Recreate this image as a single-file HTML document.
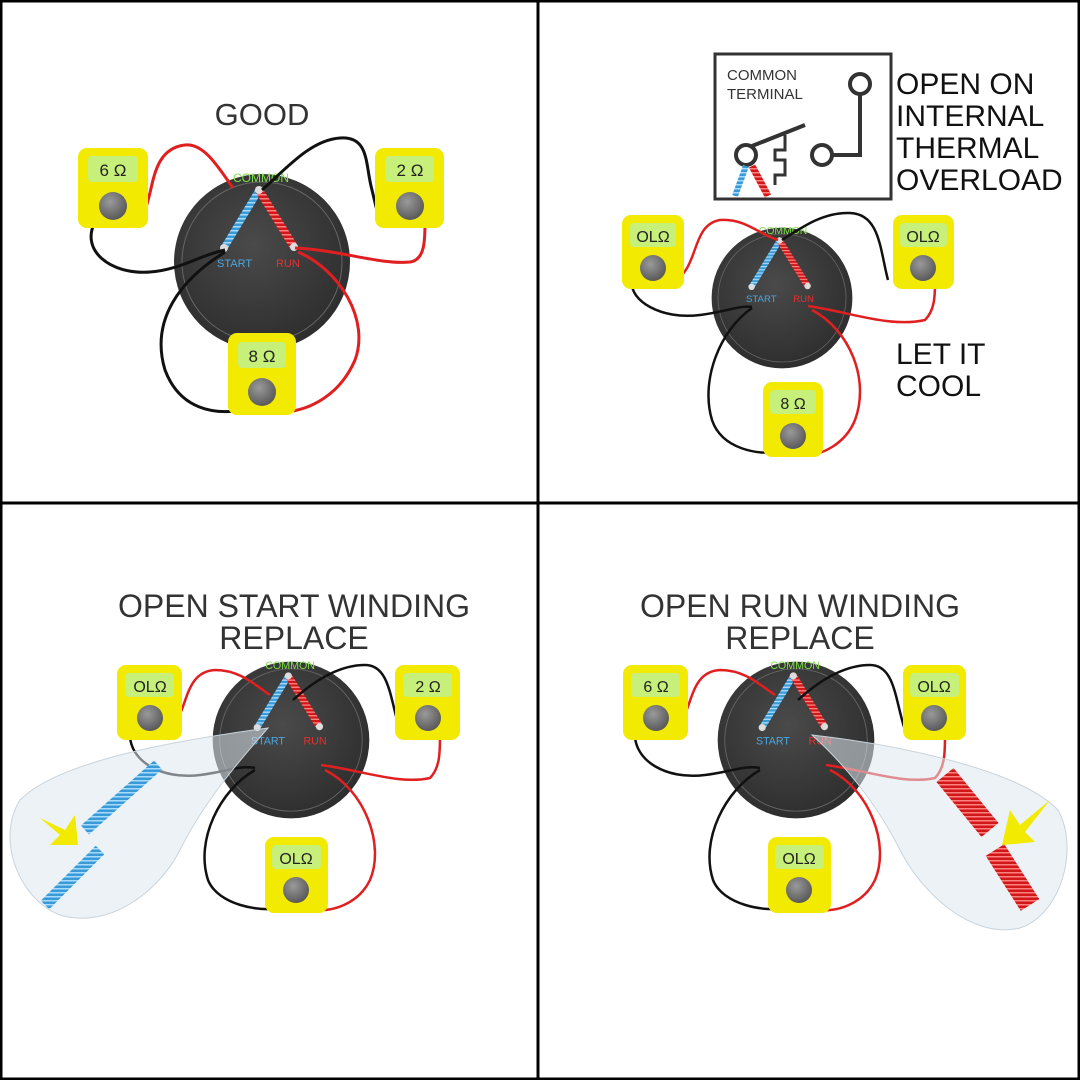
<!DOCTYPE html>
<html><head><meta charset="utf-8"><style>
html,body{margin:0;padding:0;background:#fff}
svg{display:block}
text{font-family:"Liberation Sans",sans-serif}
</style></head><body>
<svg width="1080" height="1080" viewBox="0 0 1080 1080">
<defs>
<radialGradient id="mg" cx="0.45" cy="0.4" r="0.6"><stop offset="0" stop-color="#4a4a4a"/><stop offset="1" stop-color="#2e2e2e"/></radialGradient>
<radialGradient id="kn" cx="0.4" cy="0.35" r="0.7"><stop offset="0" stop-color="#9a9a9a"/><stop offset="1" stop-color="#555"/></radialGradient>
<pattern id="bs" width="4" height="4" patternUnits="userSpaceOnUse"><rect width="4" height="4" fill="#3a9ad8"/><rect width="4" height="1.5" fill="#a8dcff"/></pattern>
<pattern id="rs" width="4" height="4" patternUnits="userSpaceOnUse"><rect width="4" height="4" fill="#d01818"/><rect width="4" height="1.5" fill="#ff8080"/></pattern>
</defs>
<rect width="1080" height="1080" fill="#fff"/>
<rect x="1" y="1" width="1078" height="1078" fill="none" stroke="#000" stroke-width="3"/>
<line x1="538" y1="0" x2="538" y2="1080" stroke="#000" stroke-width="3"/>
<line x1="0" y1="503" x2="1080" y2="503" stroke="#000" stroke-width="3"/>

<!-- ===== Q1 ===== -->
<text x="262" y="125" font-size="31" text-anchor="middle" fill="#333">GOOD</text>
<g transform="translate(262,262)">
<circle r="88" fill="url(#mg)"/><circle r="80" fill="none" stroke="#666" stroke-width="1"/>
<line x1="-3" y1="-72" x2="-38" y2="-14" stroke="url(#bs)" stroke-width="7"/>
<line x1="-3" y1="-72" x2="32" y2="-15" stroke="url(#rs)" stroke-width="8"/>
<circle cx="-3" cy="-72" r="4" fill="#ddd"/><circle cx="-38" cy="-14" r="4" fill="#ddd"/><circle cx="32" cy="-15" r="4" fill="#ddd"/>
<text x="-29" y="-80" font-size="12" fill="#7fe04a">COMMON</text>
<text x="-45" y="5" font-size="11" fill="#4aa8e0">START</text>
<text x="14" y="5" font-size="11" fill="#e83030">RUN</text>
</g>
<g fill="none" stroke-width="3">
<path d="M130 222 C160 220 140 150 185 145 C205 143 220 170 233 188" stroke="#e02020"/>
<path d="M95 222 C80 250 110 275 150 272 C180 270 200 255 225 250" stroke="#111"/>
<path d="M262 190 C285 170 310 140 340 138 C370 136 365 165 372 190 C378 215 380 228 388 225" stroke="#111"/>
<path d="M295 248 C340 250 380 265 410 262 C425 260 425 240 425 222" stroke="#e02020"/>
<path d="M225 252 C180 280 150 320 165 370 C180 410 215 415 243 410" stroke="#111"/>
<path d="M298 252 C340 270 370 320 355 360 C340 395 310 410 285 412" stroke="#e02020"/>
</g>
<rect x="78" y="148" width="70" height="80" rx="9" fill="#f2ea00"/><rect x="88" y="156" width="50" height="26" rx="4" fill="#c6f07a"/><text x="113" y="176" font-size="17" text-anchor="middle" fill="#222">6 Ω</text><circle cx="113" cy="206" r="14" fill="url(#kn)"/>
<rect x="375" y="148" width="69" height="80" rx="9" fill="#f2ea00"/><rect x="385" y="156" width="49" height="26" rx="4" fill="#c6f07a"/><text x="410" y="176" font-size="17" text-anchor="middle" fill="#222">2 Ω</text><circle cx="410" cy="206" r="14" fill="url(#kn)"/>
<rect x="228" y="333" width="68" height="82" rx="9" fill="#f2ea00"/><rect x="238" y="342" width="48" height="26" rx="4" fill="#c6f07a"/><text x="262" y="362" font-size="17" text-anchor="middle" fill="#222">8 Ω</text><circle cx="262" cy="392" r="14" fill="url(#kn)"/>

<!-- ===== Q2 ===== -->
<rect x="715" y="54" width="176" height="145" fill="#fff" stroke="#333" stroke-width="3"/>
<text x="727" y="80" font-size="15" fill="#333">COMMON</text>
<text x="727" y="99" font-size="15" fill="#333">TERMINAL</text>
<circle cx="860" cy="84" r="10" fill="none" stroke="#333" stroke-width="4"/>
<path d="M860 94 V155 H832" fill="none" stroke="#333" stroke-width="4"/>
<circle cx="822" cy="155" r="10" fill="none" stroke="#333" stroke-width="4"/>
<circle cx="746" cy="155" r="10" fill="none" stroke="#333" stroke-width="4"/>
<path d="M752 146 L805 125" stroke="#333" stroke-width="4"/>
<path d="M785 135 V150 H775 V160 H785 V175 H775 V185" fill="none" stroke="#333" stroke-width="3"/>
<line x1="746" y1="166" x2="735" y2="196" stroke="url(#bs)" stroke-width="6"/>
<line x1="752" y1="166" x2="768" y2="196" stroke="url(#rs)" stroke-width="7"/>
<g font-size="30" fill="#111"><text x="896" y="94">OPEN ON</text><text x="896" y="126">INTERNAL</text><text x="896" y="158">THERMAL</text><text x="896" y="190">OVERLOAD</text>
<text x="896" y="364">LET IT</text><text x="896" y="396">COOL</text></g>
<g transform="translate(782,298) scale(0.8)">
<circle r="88" fill="url(#mg)"/><circle r="80" fill="none" stroke="#666" stroke-width="1"/>
<line x1="-3" y1="-72" x2="-38" y2="-14" stroke="url(#bs)" stroke-width="7"/>
<line x1="-3" y1="-72" x2="32" y2="-15" stroke="url(#rs)" stroke-width="8"/>
<circle cx="-3" cy="-72" r="4" fill="#ddd"/><circle cx="-38" cy="-14" r="4" fill="#ddd"/><circle cx="32" cy="-15" r="4" fill="#ddd"/>
<text x="-29" y="-80" font-size="13" fill="#7fe04a">COMMON</text>
<text x="-45" y="5" font-size="12" fill="#4aa8e0">START</text>
<text x="14" y="5" font-size="12" fill="#e83030">RUN</text>
</g>
<g fill="none" stroke-width="2.5">
<path d="M672 282 C700 270 690 225 720 220 C745 218 760 235 778 240" stroke="#e02020"/>
<path d="M632 282 C630 300 660 320 700 315 C725 312 740 305 752 307" stroke="#111"/>
<path d="M782 240 C805 225 825 212 850 213 C880 214 880 250 888 280" stroke="#111"/>
<path d="M808 306 C850 312 890 328 925 320 C935 310 935 295 935 282" stroke="#e02020"/>
<path d="M752 308 C720 330 700 380 712 420 C722 450 760 455 778 452" stroke="#111"/>
<path d="M812 310 C850 330 870 380 855 420 C845 445 820 455 808 455" stroke="#e02020"/>
</g>
<rect x="622" y="215" width="62" height="74" rx="9" fill="#f2ea00"/><rect x="630" y="223" width="46" height="24" rx="4" fill="#c6f07a"/><text x="653" y="242" font-size="16" text-anchor="middle" fill="#222">OLΩ</text><circle cx="653" cy="268" r="13" fill="url(#kn)"/>
<rect x="893" y="215" width="61" height="74" rx="9" fill="#f2ea00"/><rect x="900" y="223" width="47" height="24" rx="4" fill="#c6f07a"/><text x="923" y="242" font-size="16" text-anchor="middle" fill="#222">OLΩ</text><circle cx="923" cy="268" r="13" fill="url(#kn)"/>
<rect x="763" y="382" width="60" height="75" rx="9" fill="#f2ea00"/><rect x="770" y="390" width="46" height="24" rx="4" fill="#c6f07a"/><text x="793" y="409" font-size="16" text-anchor="middle" fill="#222">8 Ω</text><circle cx="793" cy="436" r="13" fill="url(#kn)"/>

<!-- ===== Q3 ===== -->
<g font-size="32" fill="#333" text-anchor="middle"><text x="294" y="617">OPEN START WINDING</text><text x="294" y="649">REPLACE</text>
<text x="800" y="617">OPEN RUN WINDING</text><text x="800" y="649">REPLACE</text></g>
<g transform="translate(291,740) scale(0.89)">
<circle r="88" fill="url(#mg)"/><circle r="80" fill="none" stroke="#666" stroke-width="1"/>
<line x1="-3" y1="-72" x2="-38" y2="-14" stroke="url(#bs)" stroke-width="7"/>
<line x1="-3" y1="-72" x2="32" y2="-15" stroke="url(#rs)" stroke-width="8"/>
<circle cx="-3" cy="-72" r="4" fill="#ddd"/><circle cx="-38" cy="-14" r="4" fill="#ddd"/><circle cx="32" cy="-15" r="4" fill="#ddd"/>
<text x="-29" y="-80" font-size="12" fill="#7fe04a">COMMON</text>
<text x="-45" y="5" font-size="12" fill="#4aa8e0">START</text>
<text x="14" y="5" font-size="12" fill="#e83030">RUN</text>
</g>
<g fill="none" stroke-width="2.5">
<path d="M165 732 C190 720 180 672 215 670 C240 670 255 685 270 695" stroke="#e02020"/>
<path d="M130 735 C130 760 160 780 200 775 C225 772 240 765 255 768" stroke="#111"/>
<path d="M293 700 C315 680 340 665 365 665 C390 665 390 700 400 730" stroke="#111"/>
<path d="M321 765 C360 770 400 785 430 778 C440 768 440 752 440 735" stroke="#e02020"/>
<path d="M255 770 C220 790 195 840 208 880 C218 905 260 912 278 908" stroke="#111"/>
<path d="M325 770 C365 790 385 845 370 880 C358 905 330 912 315 910" stroke="#e02020"/>
</g>
<path d="M268 728 C180 740 60 760 20 800 C-5 840 20 900 60 915 C110 930 160 890 180 850 C205 800 240 760 268 728 Z" fill="#dfe8ee" fill-opacity="0.55" stroke="#c8d4dc"/>
<path d="M40 818 L65 830 L75 815 L78 845 L50 845 L60 835 Z" fill="#f2ea00"/>
<line x1="85" y1="830" x2="158" y2="765" stroke="url(#bs)" stroke-width="12"/>
<line x1="45" y1="905" x2="100" y2="850" stroke="url(#bs)" stroke-width="12"/>
<rect x="117" y="665" width="65" height="75" rx="9" fill="#f2ea00"/><rect x="125" y="673" width="49" height="24" rx="4" fill="#c6f07a"/><text x="150" y="692" font-size="16" text-anchor="middle" fill="#222">OLΩ</text><circle cx="150" cy="718" r="13" fill="url(#kn)"/>
<rect x="395" y="665" width="65" height="75" rx="9" fill="#f2ea00"/><rect x="403" y="673" width="49" height="24" rx="4" fill="#c6f07a"/><text x="428" y="692" font-size="16" text-anchor="middle" fill="#222">2 Ω</text><circle cx="428" cy="718" r="13" fill="url(#kn)"/>
<rect x="265" y="837" width="63" height="76" rx="9" fill="#f2ea00"/><rect x="272" y="845" width="49" height="24" rx="4" fill="#c6f07a"/><text x="296" y="864" font-size="16" text-anchor="middle" fill="#222">OLΩ</text><circle cx="296" cy="890" r="13" fill="url(#kn)"/>

<!-- ===== Q4 ===== -->
<g transform="translate(796,740) scale(0.89)">
<circle r="88" fill="url(#mg)"/><circle r="80" fill="none" stroke="#666" stroke-width="1"/>
<line x1="-3" y1="-72" x2="-38" y2="-14" stroke="url(#bs)" stroke-width="7"/>
<line x1="-3" y1="-72" x2="32" y2="-15" stroke="url(#rs)" stroke-width="8"/>
<circle cx="-3" cy="-72" r="4" fill="#ddd"/><circle cx="-38" cy="-14" r="4" fill="#ddd"/><circle cx="32" cy="-15" r="4" fill="#ddd"/>
<text x="-29" y="-80" font-size="12" fill="#7fe04a">COMMON</text>
<text x="-45" y="5" font-size="12" fill="#4aa8e0">START</text>
<text x="14" y="5" font-size="12" fill="#e83030">RUN</text>
</g>
<g fill="none" stroke-width="2.5">
<path d="M670 732 C695 720 685 672 720 670 C745 670 760 685 775 695" stroke="#e02020"/>
<path d="M635 735 C635 760 665 780 705 775 C730 772 745 765 760 768" stroke="#111"/>
<path d="M798 700 C820 680 845 665 870 665 C895 665 895 700 905 730" stroke="#111"/>
<path d="M826 765 C865 770 905 785 935 778 C945 768 945 752 945 735" stroke="#e02020"/>
<path d="M760 770 C725 790 700 840 713 880 C723 905 765 912 783 908" stroke="#111"/>
<path d="M830 770 C870 790 890 845 875 880 C863 905 835 912 820 910" stroke="#e02020"/>
</g>
<path d="M812 735 C900 745 1020 770 1058 810 C1080 850 1060 915 1020 928 C970 940 920 890 900 850 C875 800 840 760 812 735 Z" fill="#dfe8ee" fill-opacity="0.55" stroke="#c8d4dc"/>
<path d="M1050 800 L1020 825 L1010 810 L1002 845 L1035 842 L1025 832 Z" fill="#f2ea00"/>
<line x1="945" y1="775" x2="990" y2="830" stroke="url(#rs)" stroke-width="22"/>
<line x1="995" y1="850" x2="1030" y2="905" stroke="url(#rs)" stroke-width="22"/>
<rect x="623" y="665" width="65" height="75" rx="9" fill="#f2ea00"/><rect x="631" y="673" width="49" height="24" rx="4" fill="#c6f07a"/><text x="656" y="692" font-size="16" text-anchor="middle" fill="#222">6 Ω</text><circle cx="656" cy="718" r="13" fill="url(#kn)"/>
<rect x="903" y="665" width="63" height="75" rx="9" fill="#f2ea00"/><rect x="910" y="673" width="49" height="24" rx="4" fill="#c6f07a"/><text x="934" y="692" font-size="16" text-anchor="middle" fill="#222">OLΩ</text><circle cx="934" cy="718" r="13" fill="url(#kn)"/>
<rect x="768" y="837" width="63" height="76" rx="9" fill="#f2ea00"/><rect x="775" y="845" width="49" height="24" rx="4" fill="#c6f07a"/><text x="799" y="864" font-size="16" text-anchor="middle" fill="#222">OLΩ</text><circle cx="799" cy="890" r="13" fill="url(#kn)"/>
</svg>
</body></html>
